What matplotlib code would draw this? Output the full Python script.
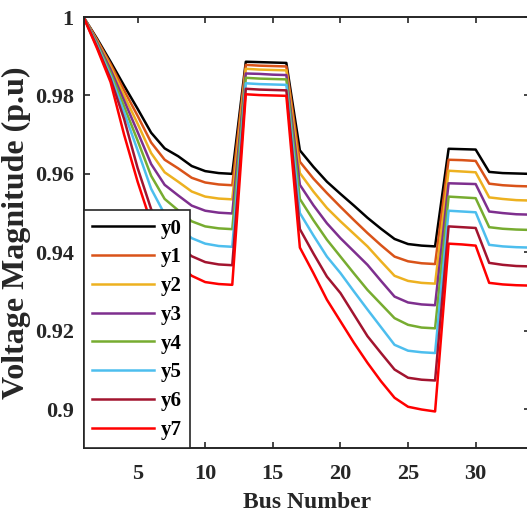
import matplotlib
matplotlib.use("Agg")
import matplotlib.pyplot as plt
import numpy as np

plt.rcParams['font.family'] = ['Liberation Serif', 'DejaVu Serif']
plt.rcParams['font.weight'] = 'bold'

# bus numbers (the last one runs just past the right edge of the picture)
bus = list(range(1, 35))

y0 = [1.0, 0.9945, 0.9886, 0.9825, 0.9766, 0.9705, 0.9665, 0.9645, 0.9620, 0.9607, 0.9602, 0.9600,
      0.9886, 0.9885, 0.9884, 0.9883,
      0.9660, 0.9618, 0.9580, 0.9549, 0.9519, 0.9488, 0.9460, 0.9434, 0.9421, 0.9417, 0.9415,
      0.9664, 0.9663, 0.9662, 0.9605, 0.9602, 0.9601, 0.9600]
y1 = [1.0, 0.9942, 0.9880, 0.9813, 0.9748, 0.9680, 0.9636, 0.9614, 0.9590, 0.9578, 0.9573, 0.9571,
      0.9878, 0.9876, 0.9875, 0.9874,
      0.9631, 0.9588, 0.9551, 0.9516, 0.9482, 0.9449, 0.9418, 0.9389, 0.9377, 0.9372, 0.9370,
      0.9636, 0.9635, 0.9633, 0.9575, 0.9571, 0.9569, 0.9568]
y2 = [1.0, 0.9939, 0.9873, 0.9800, 0.9728, 0.9653, 0.9604, 0.9580, 0.9555, 0.9542, 0.9537, 0.9535,
      0.9868, 0.9866, 0.9865, 0.9864,
      0.9602, 0.9555, 0.9513, 0.9479, 0.9447, 0.9415, 0.9377, 0.9340, 0.9327, 0.9322, 0.9320,
      0.9608, 0.9606, 0.9604, 0.9540, 0.9536, 0.9533, 0.9532]
y3 = [1.0, 0.9936, 0.9866, 0.9787, 0.9707, 0.9625, 0.9572, 0.9545, 0.9519, 0.9506, 0.9501, 0.9499,
      0.9856, 0.9855, 0.9853, 0.9852,
      0.9572, 0.9520, 0.9474, 0.9436, 0.9402, 0.9368, 0.9327, 0.9287, 0.9272, 0.9267, 0.9265,
      0.9576, 0.9575, 0.9574, 0.9504, 0.9500, 0.9497, 0.9496]
y4 = [1.0, 0.9932, 0.9858, 0.9772, 0.9685, 0.9595, 0.9536, 0.9507, 0.9479, 0.9466, 0.9461, 0.9459,
      0.9845, 0.9843, 0.9842, 0.9841,
      0.9536, 0.9482, 0.9432, 0.9389, 0.9346, 0.9304, 0.9268, 0.9232, 0.9215, 0.9208, 0.9206,
      0.9542, 0.9540, 0.9538, 0.9464, 0.9460, 0.9458, 0.9457]
y5 = [1.0, 0.9928, 0.9850, 0.9757, 0.9660, 0.9562, 0.9497, 0.9465, 0.9436, 0.9422, 0.9416, 0.9414,
      0.9831, 0.9829, 0.9828, 0.9827,
      0.9500, 0.9443, 0.9389, 0.9347, 0.9300, 0.9254, 0.9209, 0.9164, 0.9149, 0.9145, 0.9143,
      0.9506, 0.9504, 0.9502, 0.9419, 0.9415, 0.9413, 0.9412]
y6 = [1.0, 0.9924, 0.9842, 0.9740, 0.9615, 0.9510, 0.9450, 0.9418, 0.9390, 0.9375, 0.9369, 0.9367,
      0.9817, 0.9815, 0.9814, 0.9813,
      0.9459, 0.9397, 0.9338, 0.9296, 0.9241, 0.9186, 0.9143, 0.9101, 0.9080, 0.9075, 0.9073,
      0.9466, 0.9464, 0.9462, 0.9373, 0.9368, 0.9365, 0.9364]
y7 = [1.0, 0.9920, 0.9834, 0.9700, 0.9580, 0.9475, 0.9405, 0.9370, 0.9340, 0.9324, 0.9319, 0.9317,
      0.9803, 0.9801, 0.9800, 0.9799,
      0.9412, 0.9347, 0.9279, 0.9224, 0.9169, 0.9118, 0.9071, 0.9029, 0.9006, 0.8999, 0.8994,
      0.9422, 0.9420, 0.9417, 0.9322, 0.9318, 0.9316, 0.9315]

series = [y0, y1, y2, y3, y4, y5, y6, y7]
labels = ['y0', 'y1', 'y2', 'y3', 'y4', 'y5', 'y6', 'y7']
colors = ['#000000', '#D95319', '#EDB120', '#7E2F8E',
          '#77AC30', '#4DBEEE', '#A2142F', '#FF0000']

fig = plt.figure(figsize=(5.27, 5.21), dpi=100)
ax = fig.add_axes([0.1585, 0.1395, 0.8467, 0.8278])

for vals, lab, col in zip(series, labels, colors):
    ax.plot(bus, vals, color=col, linewidth=1.8, label=lab)

ax.set_xlim(1, 34)
ax.set_ylim(0.89, 1.0)
ax.set_xticks([5, 10, 15, 20, 25, 30])
ax.set_yticks([0.9, 0.92, 0.94, 0.96, 0.98, 1.0])
ax.set_yticklabels(['0.9', '0.92', '0.94', '0.96', '0.98', '1'])

ax.tick_params(direction='in', length=4, width=1.2, top=True, right=True,
               labelsize=16, colors='#262626')
ax.tick_params(axis='x', pad=11)
ax.tick_params(axis='y', pad=7)
for t in ax.get_xticklabels() + ax.get_yticklabels():
    t.set_fontweight('bold')
for s in ax.spines.values():
    s.set_linewidth(1.4)
    s.set_color('#262626')

ax.set_xlabel('Bus Number', fontsize=17, fontweight='bold', color='#262626', labelpad=6)
ax.set_ylabel('Voltage Magnitude (p.u)', fontsize=23, fontweight='bold', color='#262626', labelpad=3)

leg = ax.legend(loc='lower left', borderaxespad=0, fancybox=False, framealpha=1,
                edgecolor='#262626', handlelength=3.0, handletextpad=0.3,
                labelspacing=0.42, borderpad=0.4, prop={'size': 15, 'weight': 'bold'})
leg.get_frame().set_linewidth(1.2)

fig.savefig('out.png', dpi=100)
